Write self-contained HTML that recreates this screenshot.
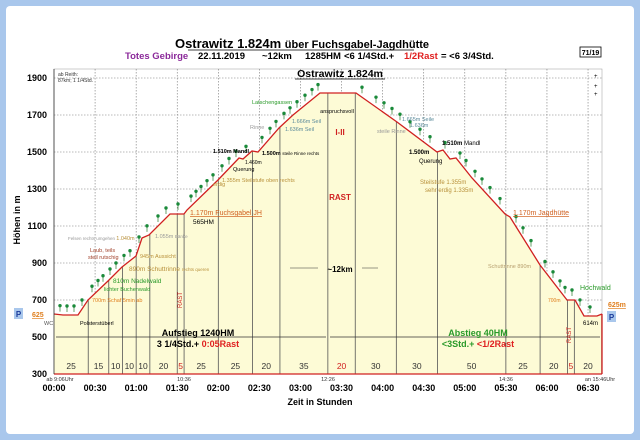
<!DOCTYPE html>
<html><head><meta charset="utf-8"><style>
html,body{margin:0;padding:0;background:#a9c7ec;}
svg{display:block;font-family:"Liberation Sans",sans-serif;}
</style></head><body>
<svg id="s" width="640" height="440" viewBox="0 0 640 440" xmlns="http://www.w3.org/2000/svg">
<rect x="0" y="0" width="640" height="440" fill="#a9c7ec"/>
<rect x="6" y="6" width="628" height="428" rx="4" fill="#ffffff"/>
<text x="302" y="48" font-size="13" font-weight="bold" text-anchor="middle">Ostrawitz 1.824m <tspan font-size="11">über Fuchsgabel-Jagdhütte</tspan></text>
<line x1="188" y1="50" x2="414" y2="50" stroke="#000" stroke-width="0.8"/>
<text y="59" font-size="9.5" font-weight="bold"><tspan x="125" fill="#8b2a9a">Totes Gebirge</tspan><tspan x="198">22.11.2019</tspan><tspan x="262">~12km</tspan><tspan x="305">1285HM</tspan><tspan x="344">&lt;6 1/4Std.+</tspan><tspan x="404" fill="#e02020">1/2Rast</tspan><tspan x="441">= &lt;6 3/4Std.</tspan></text>
<rect x="580" y="47" width="21" height="10" fill="#fff" stroke="#000" stroke-width="0.8"/>
<text x="590.5" y="55" font-size="7" font-weight="bold" text-anchor="middle">71/19</text>
<rect x="54" y="69" width="548" height="305" fill="#fff" stroke="#999" stroke-width="0.5"/>
<g id="grid" stroke="#777" stroke-width="0.6" stroke-dasharray="1.5,1.5"></g>
<polygon id="fill" fill="#fdfbd6" stroke="none"/>
<clipPath id="cp"><polygon id="clipp"/></clipPath>
<g id="seg" stroke="#555" stroke-width="0.8" clip-path="url(#cp)"></g>
<polyline id="prof" fill="none" stroke="#d02020" stroke-width="1.3"/>
<line x1="54" y1="374" x2="602" y2="374" stroke="#d02020" stroke-width="1.3"/>
<line x1="602" y1="314" x2="602" y2="374" stroke="#d02020" stroke-width="1.3"/>
<line x1="54" y1="69" x2="54" y2="374" stroke="#333" stroke-width="0.8"/>
<g id="trees"></g>
<g font-size="9" font-weight="bold" text-anchor="end">
<text x="47" y="81">1900</text><text x="47" y="118">1700</text><text x="47" y="155">1500</text><text x="47" y="192">1300</text><text x="47" y="229">1100</text><text x="47" y="266">900</text><text x="47" y="303">700</text><text x="47" y="340">500</text><text x="47" y="377">300</text>
</g>
<text transform="translate(20,220) rotate(-90)" font-size="9" font-weight="bold" text-anchor="middle">Höhen in m</text>
<g id="xl" font-size="9" font-weight="bold" text-anchor="middle"></g>
<text x="320" y="405" font-size="9" font-weight="bold" text-anchor="middle">Zeit in Stunden</text>
<g font-size="5.5" fill="#333" text-anchor="middle">
<text x="60" y="381">ab 9:06Uhr</text><text x="184" y="381">10:36</text><text x="328" y="381">12:26</text><text x="506" y="381">14:36</text><text x="600" y="381">an 15:46Uhr</text>
</g>
<g id="segl" font-size="8.5" text-anchor="middle" fill="#333"></g>
<line x1="56" y1="337" x2="326" y2="337" stroke="#333" stroke-width="0.7"/>
<line x1="330" y1="337" x2="600" y2="337" stroke="#333" stroke-width="0.7"/>
<text x="198" y="336" font-size="9" font-weight="bold" text-anchor="middle">Aufstieg 1240HM</text>
<text x="198" y="347" font-size="9" font-weight="bold" text-anchor="middle">3 1/4Std.+ <tspan fill="#e02020">0:05Rast</tspan></text>
<text x="478" y="336" font-size="9" font-weight="bold" text-anchor="middle" fill="#2a9a2a">Abstieg 40HM</text>
<text x="478" y="347" font-size="9" font-weight="bold" text-anchor="middle" fill="#2a9a2a">&lt;3Std.+ <tspan fill="#e02020">&lt;1/2Rast</tspan></text>
<text x="340" y="272" font-size="8" font-weight="bold" text-anchor="middle">~12km</text>
<line x1="290" y1="268" x2="318" y2="268" stroke="#333" stroke-width="0.5"/>
<line x1="362" y1="268" x2="378" y2="268" stroke="#333" stroke-width="0.5"/>
<text x="340" y="77" font-size="10.5" font-weight="bold" text-anchor="middle">Ostrawitz 1.824m</text>
<line x1="295" y1="79" x2="385" y2="79" stroke="#000" stroke-width="0.8"/>
<text x="58" y="76" font-size="5" fill="#333">ab Reith:</text><text x="58" y="82" font-size="5" fill="#333">87km; 1 1/4Std.</text>
<text x="340" y="135" font-size="8" font-weight="bold" fill="#d02020" text-anchor="middle">I-II</text>
<text x="340" y="200" font-size="8" font-weight="bold" fill="#d02020" text-anchor="middle">RAST</text>
<text x="337" y="113" font-size="5.5" text-anchor="middle">anspruchsvoll</text>
<text x="377" y="133" font-size="5.5" fill="#999">steile Rinne</text>
<text x="252" y="104" font-size="5.5" fill="#2a9a2a">Latschengassen</text>
<text x="250" y="129" font-size="5.5" fill="#999">Rinne</text>
<text x="292" y="123" font-size="5.5" fill="#5a8a9a">1.666m Seil</text><text x="285" y="131" font-size="5.5" fill="#5a8a9a">1.636m Seil</text>
<text x="213" y="153" font-size="5.5" font-weight="bold">1.510m Mandl</text>
<text x="262" y="155" font-size="5.5" font-weight="bold">1.500m <tspan font-weight="normal" font-size="4.5">steile Rinne rechts</tspan></text>
<text x="245" y="164" font-size="5">1.460m</text><text x="233" y="171" font-size="5.5">Querung</text>
<text x="222" y="182" font-size="5.5" fill="#b8903a">1.355m Steilstufe oben rechts</text>
<text x="213" y="186" font-size="5.5" fill="#b8903a">erdig</text>
<text x="190" y="215" font-size="7" fill="#d06020" text-decoration="underline">1.170m Fuchsgabel JH</text>
<text x="193" y="224" font-size="6.5">565HM</text>
<text x="155" y="238" font-size="5.5" fill="#999">1.055m <tspan font-size="4.5">Bänke</tspan></text>
<text x="68" y="240" font-size="4.5" fill="#999">Felsen rechts umgehen <tspan fill="#b8903a" font-size="5.5">1.040m</tspan></text>
<text x="90" y="252" font-size="5.5" fill="#a0402a">Laub, teils</text><text x="88" y="259" font-size="5.5" fill="#a0402a">steil rutschig</text>
<text x="140" y="258" font-size="5.5" fill="#b8903a">945m Aussicht</text>
<text x="129" y="271" font-size="6.5" fill="#b8903a">890m Schuttrinne <tspan font-size="4.5">rechts queren</tspan></text>
<text x="113" y="283" font-size="6.5" fill="#2a9a2a">810m Nadelwald</text>
<text x="104" y="291" font-size="5.5" fill="#2a9a2a">lichter Buchenwald</text>
<text x="92" y="302" font-size="5.5" fill="#e08020">700m Schaf 5min ab</text>
<text x="80" y="325" font-size="5.5">Polsterstüberl</text>
<text x="44" y="325" font-size="5.5" fill="#555">WC</text>
<rect x="14" y="308" width="9" height="11" fill="#a9c7ec"/><text x="18.5" y="317" font-size="8" font-weight="bold" fill="#1a3a9a" text-anchor="middle">P</text>
<text x="32" y="317" font-size="7" font-weight="bold" fill="#e08020" text-decoration="underline">625</text>
<rect x="607" y="311" width="9" height="11" fill="#a9c7ec"/><text x="611.5" y="320" font-size="8" font-weight="bold" fill="#1a3a9a" text-anchor="middle">P</text>
<text x="608" y="307" font-size="7" font-weight="bold" fill="#e08020" text-decoration="underline">625m</text>
<text x="583" y="325" font-size="6">614m</text>
<text x="580" y="290" font-size="7" fill="#2a9a2a">Hochwald</text>
<text x="548" y="302" font-size="5" fill="#e08020">700m</text>
<text x="488" y="268" font-size="5.5" fill="#b8a070">Schuttrinne 890m</text>
<text x="513" y="215" font-size="7" fill="#d06020" text-decoration="underline">1.170m Jagdhütte</text>
<text x="420" y="184" font-size="6" fill="#b8903a">Steilstufe 1.355m</text><text x="425" y="192" font-size="6" fill="#b8903a">sehr erdig 1.335m</text>
<text x="409" y="154" font-size="6" font-weight="bold">1.500m</text><text x="419" y="163" font-size="6">Querung</text>
<text x="442" y="145" font-size="6" font-weight="bold">1.510m <tspan font-weight="normal">Mandl</tspan></text>
<text x="402" y="121" font-size="5.5" fill="#5a8a9a">1.665m Seile</text><text x="410" y="127" font-size="5.5" fill="#5a8a9a">1.636m</text>
<text transform="translate(182,300) rotate(-90)" font-size="6" fill="#d02020" text-anchor="middle">RAST</text>
<text transform="translate(571,335) rotate(-90)" font-size="6" fill="#d02020" text-anchor="middle">RAST</text>
<text x="594" y="78" font-size="6">+</text><text x="594" y="88" font-size="6">+</text><text x="594" y="96" font-size="6">+</text>
</svg>
<script>
var P=[[54,314],[63,315],[78,315],[88,300],[108,281],[122,267],[136,256],[142,238],[149,235],[170,214],[184,214],[187,210],[218,180],[239,158],[243,159],[252,151],[258,152],[279,128],[293,115],[320,93],[356,93],[397,122],[437,152],[443,150],[450,159],[456,158],[472,178],[505,214],[510,217],[540,265],[567,300],[575,300],[584,316],[597,316],[602,314]];
var ns="http://www.w3.org/2000/svg";
function el(t,a,p){var e=document.createElementNS(ns,t);for(var k in a)e.setAttribute(k,a[k]);document.getElementById(p).appendChild(e);return e;}
var ps=P.map(function(p){return p.join(',')}).join(' ');
document.getElementById('prof').setAttribute('points',ps);
var fp=ps+' 602,374 54,374';
document.getElementById('fill').setAttribute('points',fp);
document.getElementById('clipp').setAttribute('points',fp);
for(var v=500;v<=1900;v+=200){var y=374-(v-300)*0.185;el('line',{x1:54,y1:y,x2:602,y2:y},'grid');}
for(var i=1;i<=13;i++){var x=54+i*41.08;el('line',{x1:x,y1:69,x2:x,y2:374},'grid');}
for(var i=0;i<=13;i++){var x=54+i*41.08;var h=Math.floor(i/2),m=i%2?'30':'00';var t=el('text',{x:x,y:391},'xl');t.textContent='0'+h+':'+m;}
var segs=[25,15,10,10,10,20,5,25,25,20,35,20,30,30,50,25,20,5,20];var red={6:1,11:1,17:1};var c=0;
segs.forEach(function(s,i){var x0=54+c*1.3693;c+=s;var x1=54+c*1.3693;el('line',{x1:x1,y1:60,x2:x1,y2:374},'seg');var t=el('text',{x:(x0+x1)/2,y:369},'segl');if(red[i])t.setAttribute('fill','#d02020');t.textContent=s;});
function yAt(x){for(var i=0;i<P.length-1;i++){if(x>=P[i][0]&&x<=P[i+1][0]){var f=(x-P[i][0])/(P[i+1][0]-P[i][0]||1);return P[i][1]+f*(P[i+1][1]-P[i][1]);}}return 314;}
var tx=[60,67,74,82,92,98,103,110,116,124,130,139,147,158,166,178,191,196,201,207,213,222,229,236,246,262,270,276,284,290,297,305,312,318,362,376,384,392,400,410,420,430,445,460,466,475,482,490,500,516,523,531,545,553,560,565,572,580,590];
tx.forEach(function(x){var y=yAt(x);var o=(x<90||x>575)?9:10;el('line',{x1:x,y1:y-o,x2:x,y2:y-o+6,stroke:'#2a7a2a','stroke-width':0.7},'trees');el('circle',{cx:x,cy:y-o,r:1.7,fill:'#1a8a3a'},'trees');});
</script>
</body></html>
